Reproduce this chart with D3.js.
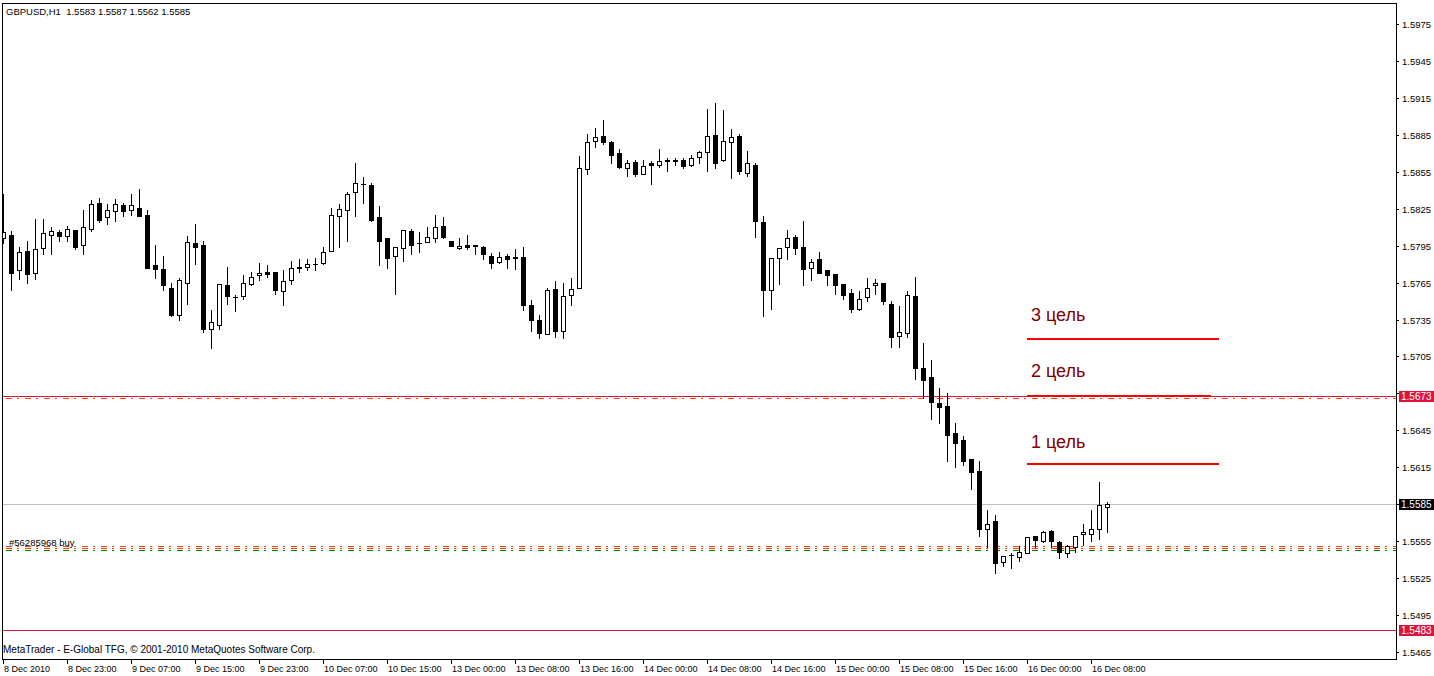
<!DOCTYPE html>
<html><head><meta charset="utf-8">
<script src="https://cdn.jsdelivr.net/npm/d3@7"></script>
<style>
html,body{margin:0;padding:0;background:#fff;overflow:hidden}
svg{display:block;font-family:'Liberation Sans',Arial,sans-serif}
</style>
</head><body><svg id="c" width="1434" height="676"></svg>
<script>
// ---------- data ----------
const symbolTitle = "GBPUSD,H1  1.5583 1.5587 1.5562 1.5585";
const footerText = "MetaTrader - E-Global TFG, \u00A9 2001-2010 MetaQuotes Software Corp.";

const open = [
1.5801,1.5804,1.5775,1.5791,1.5773,1.5793,1.5804,1.5806,1.5803,1.5808,
1.5796,1.5809,1.5830,1.5818,1.5823,1.5828,1.5824,1.5826,1.5820,1.5779,
1.5776,1.5761,1.5739,1.5765,1.5797,1.5796,1.5727,1.5731,1.5763,1.5753,
1.5754,1.5764,1.5771,1.5774,1.5774,1.5758,1.5767,1.5778,1.5778,1.5780,
1.5781,1.5791,1.5819,1.5824,1.5839,1.5845,1.5844,1.5818,1.5801,1.5787,
1.5793,1.5807,1.5797,1.5798,1.5801,1.5811,1.5799,1.5793,1.5796,1.5796,
1.5794,1.5787,1.5782,1.5787,1.5786,1.5786,1.5747,1.5735,1.5723,1.5760,
1.5726,1.5755,1.5761,1.5857,1.5880,1.5884,1.5879,1.5870,1.5858,1.5863,
1.5853,1.5862,1.5861,1.5865,1.5865,1.5865,1.5861,1.5867,1.5871,1.5885,
1.5865,1.5879,1.5884,1.5854,1.5861,1.5814,1.5759,1.5785,1.5794,1.5802,
1.5794,1.5777,1.5784,1.5775,1.5772,1.5764,1.5757,1.5744,1.5753,1.5763,
1.5765,1.5748,1.5722,1.5724,1.5754,1.5696,1.5688,1.5667,1.5665,1.5643,
1.5637,1.5622,1.5612,1.5565,1.5571,1.5538,1.5544,1.5542,1.5545,1.5559,
1.5555,1.5563,1.5554,1.5545,1.5550,1.5561,1.5561,1.5565,1.5583];

const high = [
1.5837,1.5807,1.5794,1.5799,1.5817,1.5817,1.5810,1.5808,1.5811,1.5808,
1.5824,1.5832,1.5834,1.5829,1.5833,1.5830,1.5837,1.5841,1.5824,1.5796,
1.5787,1.5765,1.5769,1.5803,1.5813,1.5799,1.5743,1.5764,1.5778,1.5755,
1.5771,1.5774,1.5781,1.5779,1.5774,1.5775,1.5783,1.5784,1.5784,1.5785,
1.5794,1.5826,1.5829,1.5839,1.5862,1.5851,1.5846,1.5827,1.5801,1.5794,
1.5808,1.5809,1.5806,1.5810,1.5820,1.5818,1.5799,1.5801,1.5804,1.5796,
1.5795,1.5789,1.5790,1.5788,1.5792,1.5794,1.5751,1.5739,1.5761,1.5766,
1.5765,1.5769,1.5868,1.5886,1.5891,1.5897,1.5880,1.5874,1.5865,1.5865,
1.5865,1.5864,1.5874,1.5866,1.5866,1.5866,1.5869,1.5872,1.5906,1.5911,
1.5905,1.5890,1.5886,1.5872,1.5862,1.5819,1.5785,1.5793,1.5808,1.5804,
1.5815,1.5784,1.5790,1.5775,1.5772,1.5764,1.5760,1.5758,1.5769,1.5768,
1.5765,1.5750,1.5746,1.5758,1.5770,1.5716,1.5702,1.5679,1.5675,1.5651,
1.5640,1.5622,1.5620,1.5580,1.5576,1.5543,1.5545,1.5551,1.5558,1.5559,
1.5563,1.5564,1.5555,1.5552,1.5559,1.5569,1.5580,1.5603,1.5587];

const low = [
1.5797,1.5759,1.5768,1.5765,1.5768,1.5788,1.5788,1.5799,1.5799,1.5792,
1.5788,1.5807,1.5814,1.5813,1.5815,1.5819,1.5820,1.5819,1.5777,1.5769,
1.5759,1.5738,1.5735,1.5748,1.5780,1.5725,1.5712,1.5727,1.5748,1.5742,
1.5752,1.5763,1.5767,1.5770,1.5756,1.5747,1.5764,1.5774,1.5775,1.5775,
1.5780,1.5791,1.5794,1.5799,1.5819,1.5830,1.5815,1.5779,1.5777,1.5756,
1.5783,1.5788,1.5790,1.5798,1.5798,1.5801,1.5795,1.5792,1.5792,1.5788,
1.5784,1.5777,1.5781,1.5777,1.5776,1.5743,1.5726,1.5720,1.5723,1.5721,
1.5720,1.5747,1.5761,1.5853,1.5875,1.5878,1.5862,1.5858,1.5852,1.5852,
1.5853,1.5845,1.5859,1.5856,1.5861,1.5858,1.5860,1.5862,1.5856,1.5858,
1.5864,1.5850,1.5853,1.5852,1.5802,1.5738,1.5744,1.5764,1.5784,1.5788,
1.5763,1.5767,1.5773,1.5763,1.5756,1.5752,1.5741,1.5743,1.5750,1.5756,
1.5748,1.5713,1.5713,1.5721,1.5687,1.5671,1.5654,1.5651,1.5620,1.5615,
1.5617,1.5597,1.5559,1.5550,1.5529,1.5535,1.5533,1.5539,1.5545,1.5550,
1.5554,1.5550,1.5541,1.5542,1.5546,1.5552,1.5555,1.5557,1.5562];

const close = [
1.5806,1.5773,1.5790,1.5772,1.5792,1.5805,1.5807,1.5803,1.5809,1.5794,
1.5810,1.5829,1.5816,1.5824,1.5829,1.5823,1.5828,1.5819,1.5777,1.5776,
1.5763,1.5739,1.5767,1.5798,1.5794,1.5727,1.5733,1.5764,1.5754,1.5753,
1.5765,1.5770,1.5773,1.5772,1.5759,1.5766,1.5777,1.5777,1.5780,1.5780,
1.5790,1.5820,1.5825,1.5837,1.5846,1.5845,1.5816,1.5799,1.5785,1.5794,
1.5808,1.5796,1.5797,1.5802,1.5810,1.5802,1.5795,1.5795,1.5794,1.5795,
1.5788,1.5781,1.5786,1.5784,1.5785,1.5747,1.5735,1.5724,1.5759,1.5726,
1.5754,1.5760,1.5858,1.5879,1.5883,1.5879,1.5869,1.5859,1.5862,1.5853,
1.5860,1.5861,1.5864,1.5864,1.5864,1.5860,1.5866,1.5871,1.5884,1.5862,
1.5880,1.5883,1.5856,1.5862,1.5815,1.5759,1.5785,1.5793,1.5801,1.5793,
1.5776,1.5782,1.5773,1.5771,1.5763,1.5755,1.5744,1.5752,1.5761,1.5765,
1.5750,1.5721,1.5725,1.5755,1.5696,1.5686,1.5668,1.5664,1.5641,1.5635,
1.5620,1.5611,1.5565,1.5569,1.5537,1.5543,1.5544,1.5546,1.5558,1.5556,
1.5562,1.5555,1.5546,1.5551,1.5559,1.5562,1.5565,1.5584,1.5585];

const xTickLabels = ["8 Dec 2010","8 Dec 23:00","9 Dec 07:00","9 Dec 15:00","9 Dec 23:00",
  "10 Dec 07:00","10 Dec 15:00","13 Dec 00:00","13 Dec 08:00","13 Dec 16:00","14 Dec 00:00",
  "14 Dec 08:00","14 Dec 16:00","15 Dec 00:00","15 Dec 08:00","15 Dec 16:00","16 Dec 00:00","16 Dec 08:00"];
const barsPerLabel = 8;

const priceTicks = [1.5465,1.5495,1.5525,1.5555,1.5585,1.5615,1.5645,1.5675,1.5705,
  1.5735,1.5765,1.5795,1.5825,1.5855,1.5885,1.5915,1.5945,1.5975];

const currentPrice = 1.5585;
const alertLevels = [1.5673, 1.5483];
const orderLabel = "#56285968 buy";
const orderStopLevels = [1.5671, 1.5551, 1.5549];
const orderOpenLevel = 1.5548;

const targetNames = ["1 цель", "2 цель", "3 цель"];
const targetPrices = [1.5618, 1.5673, 1.5719];
const targetTextPrices = [1.5631, 1.5688, 1.5734];
const targetFromBar = [128, 128, 128];
const targetToBar = [152, 151, 152];
const targetTextBar = 128.5;

// ---------- layout ----------
const L = 2, T = 3, R = 1396, B = 659;
const svg = d3.select("#c");
const nBars = open.length;

const x = d3.scaleLinear().domain([0, nBars - 1]).range([3, 3 + 8 * (nBars - 1)]);
const y = d3.scaleLinear().domain([1.5465, 1.5975]).rangeRound([652, 24]);
const yf = d3.scaleLinear().domain([1.5465, 1.5975]).range([651.8, 24.3]);
const row = p => Math.round(yf(p));
const col = i => Math.round(x(i));
const DASHDOT = "6,5,2,6";

svg.append("rect").attr("width", 1434).attr("height", 676).attr("fill", "#fff");

svg.append("defs").append("clipPath").attr("id", "plot")
  .append("rect").attr("x", L + 1).attr("y", T + 1).attr("width", R - L - 1).attr("height", B - T - 1);

const g = svg.append("g").attr("clip-path", "url(#plot)").attr("shape-rendering", "crispEdges");

// current price line
g.append("rect").attr("x", L).attr("width", R - L)
  .attr("y", row(currentPrice)).attr("height", 1).attr("fill", "#c0c0c0");

// alert levels (crimson)
g.selectAll("rect.alert").data(alertLevels).join("rect").attr("class", "alert")
  .attr("x", L).attr("width", R - L)
  .attr("y", d => row(d)).attr("height", 1)
  .attr("fill", "#dc143c");

// order lines (dash-dot)
g.selectAll("line.sl").data(orderStopLevels).join("line").attr("class", "sl")
  .attr("x1", L + 4).attr("x2", R)
  .attr("y1", d => row(d) + 0.5).attr("y2", d => row(d) + 0.5)
  .attr("stroke", "#ff4500").attr("stroke-dasharray", DASHDOT);
g.append("line").attr("x1", L + 4).attr("x2", R)
  .attr("y1", row(orderOpenLevel) + 0.5).attr("y2", row(orderOpenLevel) + 0.5)
  .attr("stroke", "#008000").attr("stroke-dasharray", DASHDOT);

// candles
const idx = d3.range(nBars);
const cg = g.append("g");
cg.selectAll("rect.wick").data(idx).join("rect").attr("class", "wick")
  .attr("x", i => col(i)).attr("width", 1)
  .attr("y", i => row(high[i])).attr("height", i => row(low[i]) - row(high[i]) + 1)
  .attr("fill", "#000");
cg.selectAll("rect.body").data(idx).join("rect").attr("class", "body")
  .attr("x", i => col(i) - 2).attr("width", 5)
  .attr("y", i => row(Math.max(open[i], close[i])))
  .attr("height", i => row(Math.min(open[i], close[i])) - row(Math.max(open[i], close[i])) + 1)
  .attr("fill", "#000");
cg.selectAll("rect.inner").data(idx.filter(i => close[i] > open[i] &&
    row(open[i]) - row(close[i]) >= 2)).join("rect").attr("class", "inner")
  .attr("x", i => col(i) - 1).attr("width", 3)
  .attr("y", i => row(close[i]) + 1)
  .attr("height", i => row(open[i]) - row(close[i]) - 1)
  .attr("fill", "#fff");

// target lines & labels
const tIdx = d3.range(targetPrices.length);
g.selectAll("line.target").data(tIdx).join("line").attr("class", "target")
  .attr("x1", i => x(targetFromBar[i])).attr("x2", i => x(targetToBar[i]))
  .attr("y1", i => row(targetPrices[i])).attr("y2", i => row(targetPrices[i]))
  .attr("stroke", "#ff0000").attr("stroke-width", 2);
svg.selectAll("text.target").data(tIdx).join("text").attr("class", "target")
  .attr("x", x(targetTextBar)).attr("y", i => yf(targetTextPrices[i]))
  .attr("font-size", 18).attr("fill", "#800000")
  .text(i => targetNames[i]);

// order label
svg.append("text").attr("x", 9).attr("y", row(orderStopLevels[1]))
  .attr("font-size", 9.5).attr("fill", "#000").text(orderLabel);

// title & footer
svg.append("text").attr("x", 6).attr("y", 15).attr("font-size", 9.5)
  .style("white-space", "pre").text(symbolTitle);
svg.append("text").attr("x", 3).attr("y", 653).attr("font-size", 10).text(footerText);

// frame
const frame = svg.append("g").attr("fill", "#000").attr("shape-rendering", "crispEdges");
frame.append("rect").attr("x", L).attr("y", T).attr("width", R - L + 1).attr("height", 1);
frame.append("rect").attr("x", L).attr("y", B).attr("width", R - L + 1).attr("height", 1);
frame.append("rect").attr("x", L).attr("y", T).attr("width", 1).attr("height", B - T + 1);
frame.append("rect").attr("x", R).attr("y", T).attr("width", 1).attr("height", B - T + 1);

// right price axis
const ya = svg.append("g").attr("transform", `translate(${R + 1},0)`)
  .attr("shape-rendering", "crispEdges")
  .call(d3.axisRight(y).tickValues(priceTicks).tickSize(2).tickPadding(3).tickFormat(d3.format(".4f")));
ya.select(".domain").remove();
ya.selectAll("text").attr("font-size", 9.5).attr("font-family", "'Liberation Sans',Arial,sans-serif").attr("fill", "#000");
ya.selectAll("line").attr("stroke", "#000");

// bottom time axis
const xa = svg.append("g").attr("transform", `translate(0,${B + 1})`)
  .attr("shape-rendering", "crispEdges")
  .call(d3.axisBottom(x).tickValues(d3.range(0, nBars, barsPerLabel)).tickSize(4)
    .tickFormat((d, i) => xTickLabels[i]));
xa.select(".domain").remove();
xa.selectAll("text").attr("text-anchor", "start").attr("x", 0.5).attr("y", 12).attr("dy", 0)
  .attr("font-size", 9).attr("font-family", "'Liberation Sans',Arial,sans-serif").attr("fill", "#000");
xa.selectAll("line").attr("stroke", "#000");

// price tags
const tags = [
  {p: alertLevels[0], bg: "#dc143c"},
  {p: currentPrice, bg: "#000"},
  {p: alertLevels[1], bg: "#dc143c"}
];
const tg = svg.selectAll("g.tag").data(tags).join("g").attr("class", "tag");
tg.append("rect").attr("x", R + 3).attr("width", 35).attr("y", d => row(d.p) - 5).attr("height", 11)
  .attr("fill", d => d.bg).attr("shape-rendering", "crispEdges");
tg.append("text").attr("x", R + 5).attr("y", d => row(d.p) + 0.5).attr("dy", "0.35em")
  .attr("font-size", 10).attr("fill", "#fff").text(d => d3.format(".4f")(d.p));
</script>
</body></html>
